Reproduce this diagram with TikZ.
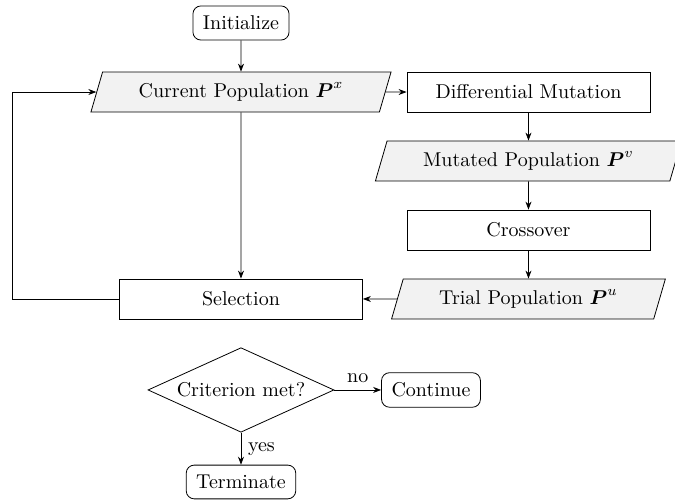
\documentclass[tikz,border=0pt]{standalone}
\usepackage{amsmath}
\usetikzlibrary{shapes.geometric,arrows.meta}
\colorlet{paleGray}{black!5}

\tikzset{
    process/.style={draw, rectangle, minimum width=121.5pt, minimum height=20pt},
    data/.style={draw, fill=paleGray, trapezium, trapezium left angle=70, trapezium right angle=110,
        trapezium stretches=true, minimum height=20pt, inner xsep=18pt},
    terminal/.style={draw, rounded corners, inner sep=5pt},
    decision/.style={draw, diamond, aspect=2.2, inner sep=2pt},
}

\begin{document}
\begin{tikzpicture}[>={Stealth[length=4pt,width=3pt]}]
    \useasboundingbox (0,0) rectangle (11.862,-8.787);
    \node[terminal] (init) at (4.235,-0.404) {Initialize};
    \node[data] (current) at (4.235,-1.617) {Current Population \(\boldsymbol{P}^x\)};
    \node[process] (mutation) at (9.287,-1.617) {Differential Mutation};
    \node[data] (mutated) at (9.287,-2.829) {Mutated Population \(\boldsymbol{P}^v\)};
    \node[process] (crossover) at (9.287,-4.042) {Crossover};
    \node[data] (trial) at (9.287,-5.254) {Trial Population \(\boldsymbol{P}^u\)};
    \node[process] (selection) at (4.235,-5.254) {Selection};
    \coordinate (loop) at (0.211,-5.254);

    \node[decision] (criterion) at (4.235,-6.853) {Criterion met?};
    \node[terminal] (continue) at (7.574,-6.853) {Continue};
    \node[terminal] (terminate) at (4.235,-8.470) {Terminate};

    \draw[->] (init) -- (current);
    \draw[->] (current) -- (mutation);
    \draw[->] (mutation) -- (mutated);
    \draw[->] (mutated) -- (crossover);
    \draw[->] (crossover) -- (trial);
    \draw[->] (trial) -- (selection);
    \draw[->] (current) -- (selection);
    \draw[->] (selection.west) -- (loop) |- (current.west);
    \draw[->] (criterion) -- node[above]{no} (continue);
    \draw[->] (criterion) -- node[right]{yes} (terminate);
\end{tikzpicture}
\end{document}
